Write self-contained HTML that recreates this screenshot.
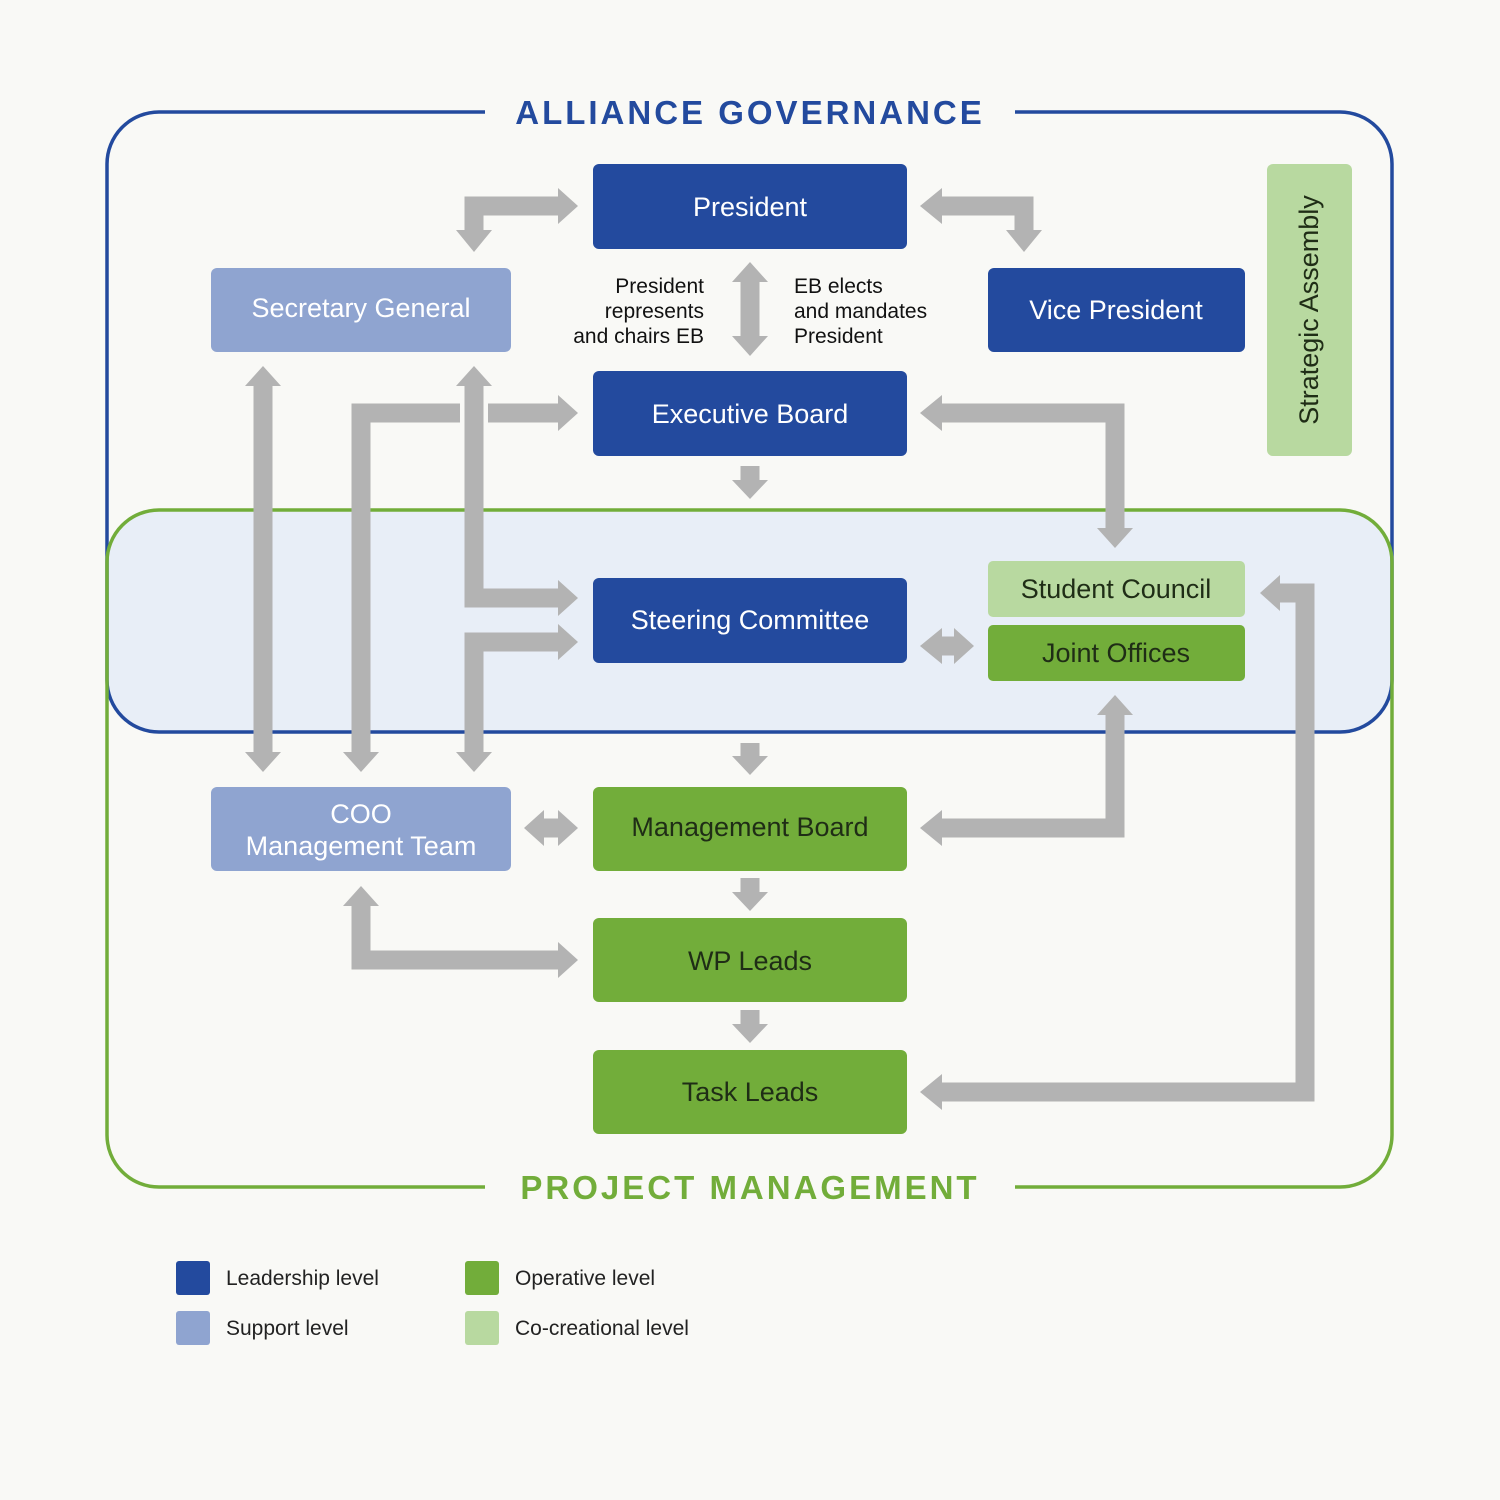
<!DOCTYPE html>
<html><head><meta charset="utf-8"><style>
html,body{margin:0;padding:0;background:#f9f9f6;}
svg{display:block;}
text{font-family:"Liberation Sans","DejaVu Sans",sans-serif;}
</style></head><body>
<svg width="1500" height="1500" viewBox="0 0 1500 1500" xmlns="http://www.w3.org/2000/svg">
<rect width="1500" height="1500" fill="#f9f9f6"/>
<!-- overlap fill -->
<rect x="107" y="510" width="1285" height="222" rx="50" fill="#e8eef7"/>
<!-- blue frame -->
<rect x="107" y="112" width="1285" height="620" rx="52" fill="none" stroke="#234a9e" stroke-width="3.5"/>
<!-- green frame -->
<rect x="107" y="510" width="1285" height="677" rx="52" fill="none" stroke="#72ad3a" stroke-width="3.5"/>
<rect x="485" y="100" width="530" height="26" fill="#f9f9f6"/>
<rect x="485" y="1175" width="530" height="26" fill="#f9f9f6"/>
<text x="750" y="124" text-anchor="middle" font-size="33" font-weight="bold" fill="#234a9e" letter-spacing="3">ALLIANCE GOVERNANCE</text>
<text x="750" y="1199" text-anchor="middle" font-size="33" font-weight="bold" fill="#72ad3a" letter-spacing="3">PROJECT MANAGEMENT</text>

<!-- connectors -->
<g fill="none" stroke="#b3b3b3" stroke-width="19" stroke-linejoin="miter">
<polyline points="474,232 474,206 560,206"/>
<polyline points="940,206 1024,206 1024,232"/>
<line x1="750" y1="280" x2="750" y2="338"/>
<line x1="263" y1="384" x2="263" y2="754"/>
<polyline points="460,413 361,413 361,754"/>
<line x1="488" y1="413" x2="560" y2="413"/>
<polyline points="474,384 474,598 560,598"/>
<polyline points="474,754 474,642 560,642"/>
<line x1="750" y1="466" x2="750" y2="482"/>
<polyline points="940,413 1115,413 1115,530"/>
<line x1="940" y1="646" x2="956" y2="646"/>
<line x1="750" y1="743" x2="750" y2="758"/>
<line x1="542" y1="828" x2="560" y2="828"/>
<polyline points="940,828 1115,828 1115,713"/>
<line x1="750" y1="878" x2="750" y2="894"/>
<polyline points="361,904 361,960 560,960"/>
<line x1="750" y1="1010" x2="750" y2="1026"/>
<polyline points="940,1092 1305,1092 1305,593 1278,593"/>
</g>
<g fill="#b3b3b3">
<!-- right heads -->
<polygon points="558,188 578,206 558,224"/>
<polygon points="558,395 578,413 558,431"/>
<polygon points="558,580 578,598 558,616"/>
<polygon points="558,624 578,642 558,660"/>
<polygon points="954,628 974,646 954,664"/>
<polygon points="558,810 578,828 558,846"/>
<polygon points="558,942 578,960 558,978"/>
<!-- left heads -->
<polygon points="942,188 920,206 942,224"/>
<polygon points="942,395 920,413 942,431"/>
<polygon points="942,628 920,646 942,664"/>
<polygon points="544,810 524,828 544,846"/>
<polygon points="942,810 920,828 942,846"/>
<polygon points="942,1074 920,1092 942,1110"/>
<polygon points="1280,575 1260,593 1280,611"/>
<!-- down heads -->
<polygon points="456,230 474,252 492,230"/>
<polygon points="1006,230 1024,252 1042,230"/>
<polygon points="732,336 750,356 768,336"/>
<polygon points="245,752 263,772 281,752"/>
<polygon points="343,752 361,772 379,752"/>
<polygon points="456,752 474,772 492,752"/>
<polygon points="732,480 750,499 768,480"/>
<polygon points="1097,528 1115,548 1133,528"/>
<polygon points="732,756 750,775 768,756"/>
<polygon points="732,892 750,911 768,892"/>
<polygon points="732,1024 750,1043 768,1024"/>
<!-- up heads -->
<polygon points="732,282 750,262 768,282"/>
<polygon points="245,386 263,366 281,386"/>
<polygon points="456,386 474,366 492,386"/>
<polygon points="1097,715 1115,695 1133,715"/>
<polygon points="343,906 361,886 379,906"/>
</g>

<!-- boxes -->
<g>
<rect x="593" y="164" width="314" height="85" rx="6" fill="#234a9e"/>
<rect x="211" y="268" width="300" height="84" rx="6" fill="#8fa4d0"/>
<rect x="988" y="268" width="257" height="84" rx="6" fill="#234a9e"/>
<rect x="593" y="371" width="314" height="85" rx="6" fill="#234a9e"/>
<rect x="1267" y="164" width="85" height="292" rx="6" fill="#b8d9a0"/>
<rect x="593" y="578" width="314" height="85" rx="6" fill="#234a9e"/>
<rect x="988" y="561" width="257" height="56" rx="5" fill="#b8d9a0"/>
<rect x="988" y="625" width="257" height="56" rx="5" fill="#72ad3a"/>
<rect x="211" y="787" width="300" height="84" rx="6" fill="#8fa4d0"/>
<rect x="593" y="787" width="314" height="84" rx="6" fill="#72ad3a"/>
<rect x="593" y="918" width="314" height="84" rx="6" fill="#72ad3a"/>
<rect x="593" y="1050" width="314" height="84" rx="6" fill="#72ad3a"/>
</g>
<g font-size="27" text-anchor="middle">
<text x="750" y="216" fill="#fff">President</text>
<text x="361" y="317" fill="#fff">Secretary General</text>
<text x="1116" y="319" fill="#fff">Vice President</text>
<text x="750" y="423" fill="#fff">Executive Board</text>
<text x="750" y="629" fill="#fff">Steering Committee</text>
<text x="1116" y="598" fill="#1f2d16">Student Council</text>
<text x="1116" y="662" fill="#1f2d16">Joint Offices</text>
<text x="361" y="823" fill="#fff">COO</text>
<text x="361" y="855" fill="#fff">Management Team</text>
<text x="750" y="836" fill="#1f2d16">Management Board</text>
<text x="750" y="970" fill="#1f2d16">WP Leads</text>
<text x="750" y="1101" fill="#1f2d16">Task Leads</text>
<text transform="translate(1318,310) rotate(-90)" fill="#1f2d16">Strategic Assembly</text>
</g>
<g font-size="21" fill="#111">
<text x="704" y="293" text-anchor="end">President</text>
<text x="704" y="318" text-anchor="end">represents</text>
<text x="704" y="343" text-anchor="end">and chairs EB</text>
<text x="794" y="293">EB elects</text>
<text x="794" y="318">and mandates</text>
<text x="794" y="343">President</text>
</g>
<!-- legend -->
<rect x="176" y="1261" width="34" height="34" rx="3" fill="#234a9e"/>
<rect x="176" y="1311" width="34" height="34" rx="3" fill="#8fa4d0"/>
<rect x="465" y="1261" width="34" height="34" rx="3" fill="#72ad3a"/>
<rect x="465" y="1311" width="34" height="34" rx="3" fill="#b8d9a0"/>
<g font-size="21" fill="#222">
<text x="226" y="1285">Leadership level</text>
<text x="226" y="1335">Support level</text>
<text x="515" y="1285">Operative level</text>
<text x="515" y="1335">Co-creational level</text>
</g>
</svg>
</body></html>
